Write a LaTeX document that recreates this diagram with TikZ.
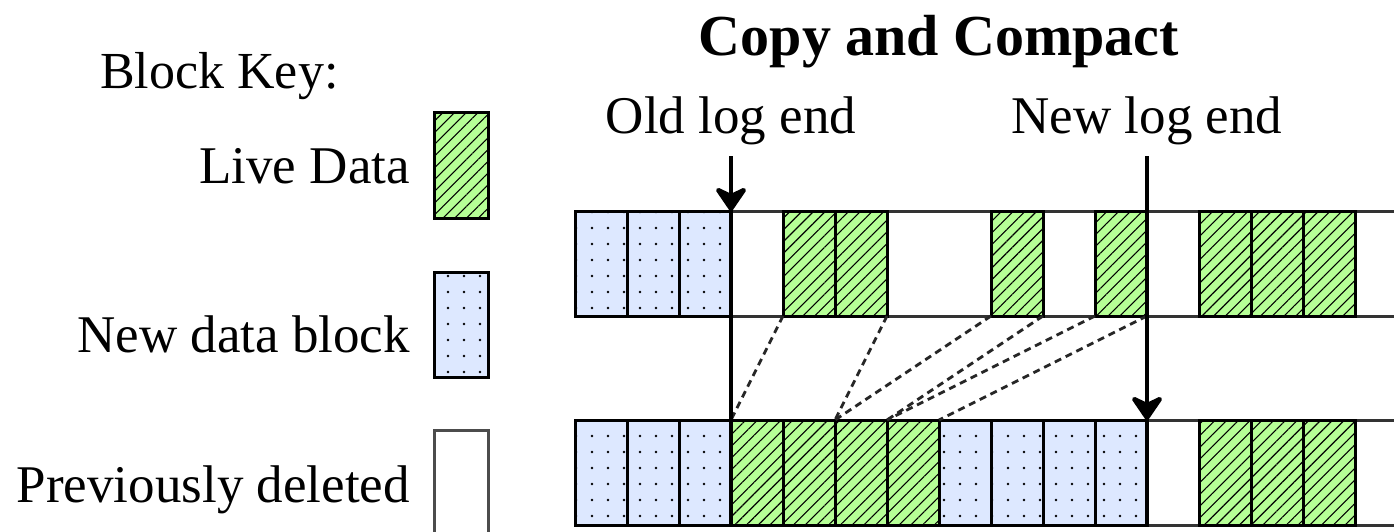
\documentclass[tikz,border=0pt]{standalone}
\usepackage{fontspec}
\setmainfont{Liberation Serif}
\usetikzlibrary{patterns.meta,arrows.meta}
\definecolor{livegreen}{RGB}{182,255,150}
\definecolor{newblue}{RGB}{221,232,255}
\tikzset{
  cellbox/.style={minimum width=52pt, minimum height=105pt, inner sep=0pt, outer sep=0pt, anchor=north west, line width=3pt},
  live/.style={cellbox, draw=black, preaction={fill=livegreen}, pattern={Lines[angle=45,distance=8.3pt,line width=1.1pt]}},
  newb/.style={cellbox, draw=black, preaction={fill=newblue}, pattern={Dots[radius=1.3pt,distance=16pt]}},
  gone/.style={cellbox},
  keygone/.style={cellbox, minimum width=54pt, draw=black!70, line width=3pt},
  rowline/.style={line width=3pt, draw=black!80},
  lab/.style={inner sep=0pt, font=\fontsize{53}{60}\selectfont},
  keylab/.style={inner sep=0pt, font=\fontsize{52}{60}\selectfont},
  ttl/.style={inner sep=0pt, font=\bfseries\fontsize{58}{66}\selectfont},
  logarrow/.style={line width=4.5pt, -{Stealth[length=28pt,width=38pt,inset=9pt,round]}},
  logline/.style={line width=4.5pt},
  copyline/.style={line width=2.8pt, dash pattern=on 7pt off 5pt, draw=black!85}
}
\begin{document}
\begin{tikzpicture}[x=1pt,y=-1pt]
\useasboundingbox (0,0) rectangle (1394,532);
\clip (0,0) rectangle (1394,532);
\fill[white] (0,0) rectangle (1394,532);

% texts
\node[ttl, anchor=base] (title) at (939,56) {Copy and Compact};
\node[keylab, anchor=base west] (key) at (100,89) {Block Key:};
\node[lab, anchor=base east] (lvlab) at (410,183) {Live Data};
\node[lab, anchor=base east] (ndlab) at (410,352) {New data block};
\node[lab, anchor=base east] (pdlab) at (410,502) {Previously deleted};
\node[lab, anchor=base] (ole) at (731,133) {Old log end};
\node[lab, anchor=base] (nle) at (1147,133) {New log end};

% legend boxes
\node[live, minimum width=54pt] (klive) at (434,113) {};
\node[newb, minimum width=54pt] (knew) at (434,272) {};
\node[keygone] (kgone) at (434,430) {};

% rows
\coordinate (r1a) at (1400,211);
\coordinate (r1b) at (575,211);
\coordinate (r1c) at (575,316);
\coordinate (r1d) at (1400,316);
\draw[rowline] (r1a) -- (r1b) -- (r1c) -- (r1d);
\coordinate (r2a) at (1400,420);
\coordinate (r2b) at (575,420);
\coordinate (r2c) at (575,525);
\coordinate (r2d) at (1400,525);
\draw[rowline] (r2a) -- (r2b) -- (r2c) -- (r2d);

% top row cells
\foreach \i/\s in {0/newb,1/newb,2/newb,3/gone,4/live,5/live,6/gone,7/gone,8/live,9/gone,10/live,11/gone,12/live,13/live,14/live,15/gone}
  \node[\s] (t\i) at ({575+52*\i},211) {};
% bottom row cells
\foreach \i/\s in {0/newb,1/newb,2/newb,3/live,4/live,5/live,6/live,7/newb,8/newb,9/newb,10/newb,11/gone,12/live,13/live,14/live,15/gone}
  \node[\s] (b\i) at ({575+52*\i},420) {};

% copy lines
\draw[copyline] (t4.south west) -- (b3.north west);
\draw[copyline] (t5.south east) -- (b4.north east);
\draw[copyline] (t8.south west) -- (b5.north west);
\draw[copyline] (t8.south east) -- (b5.north east);
\draw[copyline] (t10.south west) -- (b6.north west);
\draw[copyline] (t10.south east) -- (b6.north east);

% log end markers
\coordinate (oldtop) at (731,156);
\draw[logarrow] (oldtop) -- (t3.north west);
\draw[logline] (t3.north west) -- (b3.south west);
\coordinate (newtop) at (1147,156);
\draw[logarrow] (newtop) -- (b11.north west);
\draw[logline] (b11.north west) -- (b11.south west);
\end{tikzpicture}
\end{document}
